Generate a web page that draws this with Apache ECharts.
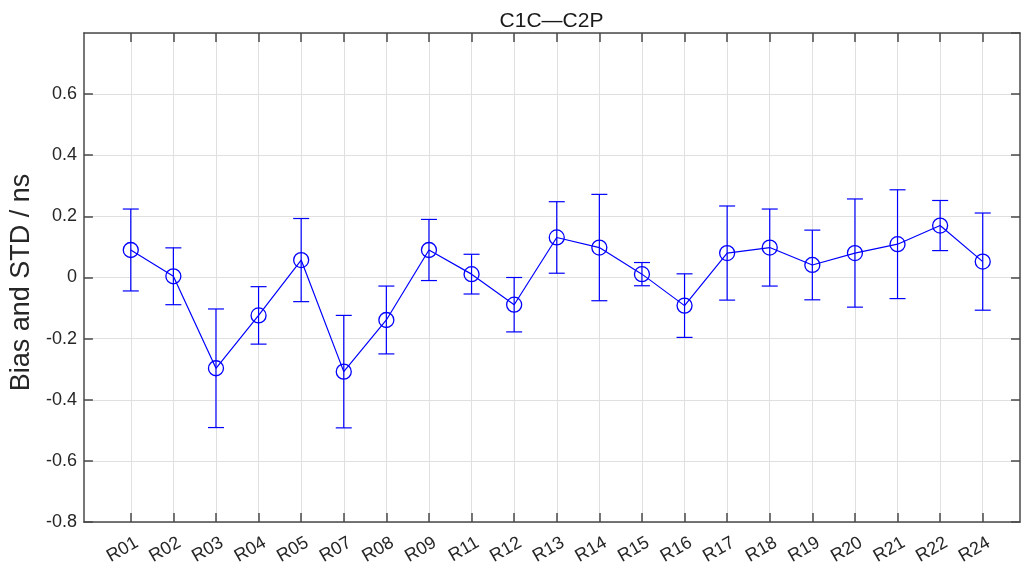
<!DOCTYPE html>
<html>
<head>
<meta charset="utf-8">
<title>C1C—C2P</title>
<script src="https://cdn.jsdelivr.net/npm/echarts@6/dist/echarts.min.js"></script>
<style>
  html, body { margin: 0; padding: 0; background: #ffffff; }
  #chart { width: 1027px; height: 570px; }
</style>
</head>
<body>
<div id="chart"></div>
<script>
// Receiver stations along the x axis
const stations = ['R01', 'R02', 'R03', 'R04', 'R05', 'R07', 'R08', 'R09', 'R11', 'R12', 'R13',
                  'R14', 'R15', 'R16', 'R17', 'R18', 'R19', 'R20', 'R21', 'R22', 'R24'];
// Mean bias (ns) per station
const bias = [0.090, 0.004, -0.297, -0.124, 0.057, -0.308, -0.139, 0.090, 0.011, -0.089, 0.131,
              0.098, 0.011, -0.092, 0.080, 0.098, 0.041, 0.080, 0.109, 0.170, 0.052];
// Standard deviation (ns) per station, drawn as symmetric error bars
const stdev = [0.134, 0.093, 0.194, 0.094, 0.136, 0.184, 0.111, 0.100, 0.065, 0.089, 0.117,
               0.174, 0.038, 0.104, 0.154, 0.126, 0.114, 0.177, 0.178, 0.082, 0.159];
// Y axis ticks
const yTicks = { min: -0.8, max: 0.8, step: 0.2 };

const idx = stations.map((_, i) => i);
const blue = '#0000ff';
const axisColor = '#4a4a4a';
const gridColor = '#e0e0e0';
const font = '"Liberation Sans", Arial, Helvetica, sans-serif';

const gridBox = { left: 83, right: 7, top: 33, bottom: 48 };
const W = 1027;
const xRange = { min: -1.1, max: 20.875 };

const chart = echarts.init(document.getElementById('chart'), null, { renderer: 'canvas' });

chart.setOption({
  animation: false,
  backgroundColor: '#ffffff',
  graphic: [
    {
      // title centred over the plot box
      type: 'text',
      x: gridBox.left + (W - gridBox.left - gridBox.right) / 2,
      y: 21,
      style: {
        text: 'C1C—C2P',
        font: '21px ' + font,
        fill: '#1a1a1a',
        align: 'center',
        verticalAlign: 'middle'
      }
    }
  ],
  grid: { left: gridBox.left, right: gridBox.right, top: gridBox.top, bottom: gridBox.bottom, containLabel: false },
  xAxis: [
    {
      type: 'value',
      position: 'bottom',
      min: xRange.min,
      max: xRange.max,
      axisLine: { show: true, onZero: false, lineStyle: { color: axisColor, width: 1.5 } },
      axisTick: { show: true, inside: true, length: 9, customValues: idx,
                  lineStyle: { color: axisColor, width: 1.5 } },
      axisLabel: {
        customValues: idx,
        formatter: v => stations[Math.round(v)] || '',
        rotate: 30,
        margin: 23,
        padding: [0, -7, 0, 0],
        fontFamily: font,
        fontSize: 18,
        color: '#262626'
      },
      splitLine: { show: true, lineStyle: { color: gridColor, width: 1 } }
    },
    {
      type: 'value',
      position: 'top',
      min: xRange.min,
      max: xRange.max,
      axisLine: { show: true, onZero: false, lineStyle: { color: axisColor, width: 1.5 } },
      axisTick: { show: true, inside: true, length: 9, customValues: idx,
                  lineStyle: { color: axisColor, width: 1.5 } },
      axisLabel: { show: false },
      splitLine: { show: false }
    }
  ],
  yAxis: [
    {
      type: 'value',
      position: 'left',
      min: yTicks.min,
      max: yTicks.max,
      interval: yTicks.step,
      name: 'Bias and STD / ns',
      nameLocation: 'middle',
      nameGap: 41,
      nameTextStyle: { fontFamily: font, fontSize: 27, color: '#262626', padding: [0, 0, 0, -10] },
      axisLine: { show: true, onZero: false, lineStyle: { color: axisColor, width: 1.5 } },
      axisTick: { show: true, inside: true, length: 9, lineStyle: { color: axisColor, width: 1.5 } },
      axisLabel: {
        showMaxLabel: false,
        margin: 7,
        fontFamily: font,
        fontSize: 18,
        color: '#262626',
        formatter: v => (Math.abs(v) < 1e-9 ? '0' : v.toFixed(1))
      },
      splitLine: { show: true, lineStyle: { color: gridColor, width: 1 } }
    },
    {
      type: 'value',
      position: 'right',
      min: yTicks.min,
      max: yTicks.max,
      interval: yTicks.step,
      axisLine: { show: true, onZero: false, lineStyle: { color: axisColor, width: 1.5 } },
      axisTick: { show: true, inside: true, length: 9, lineStyle: { color: axisColor, width: 1.5 } },
      axisLabel: { show: false },
      splitLine: { show: false }
    }
  ],
  series: [
    {
      // vertical error bars with caps: bias ± std
      type: 'custom',
      xAxisIndex: 0,
      yAxisIndex: 0,
      data: idx.map(i => [i, bias[i] - stdev[i], bias[i] + stdev[i]]),
      renderItem: function (params, api) {
        const x = api.value(0);
        const lo = api.coord([x, api.value(1)]);
        const hi = api.coord([x, api.value(2)]);
        const half = 8;
        const style = { stroke: blue, lineWidth: 1.2, fill: null };
        return {
          type: 'group',
          children: [
            { type: 'line', shape: { x1: lo[0], y1: lo[1], x2: hi[0], y2: hi[1] }, style: style },
            { type: 'line', shape: { x1: hi[0] - half, y1: hi[1], x2: hi[0] + half, y2: hi[1] }, style: style },
            { type: 'line', shape: { x1: lo[0] - half, y1: lo[1], x2: lo[0] + half, y2: lo[1] }, style: style }
          ]
        };
      },
      z: 3
    },
    {
      // mean bias line with open circle markers
      type: 'line',
      xAxisIndex: 0,
      yAxisIndex: 0,
      data: idx.map(i => [i, bias[i]]),
      symbol: 'circle',
      symbolSize: 15,
      showAllSymbol: true,
      lineStyle: { color: blue, width: 1.2 },
      itemStyle: { color: 'rgba(0,0,0,0)', borderColor: blue, borderWidth: 1.3 },
      z: 4
    }
  ]
});
</script>
</body>
</html>
